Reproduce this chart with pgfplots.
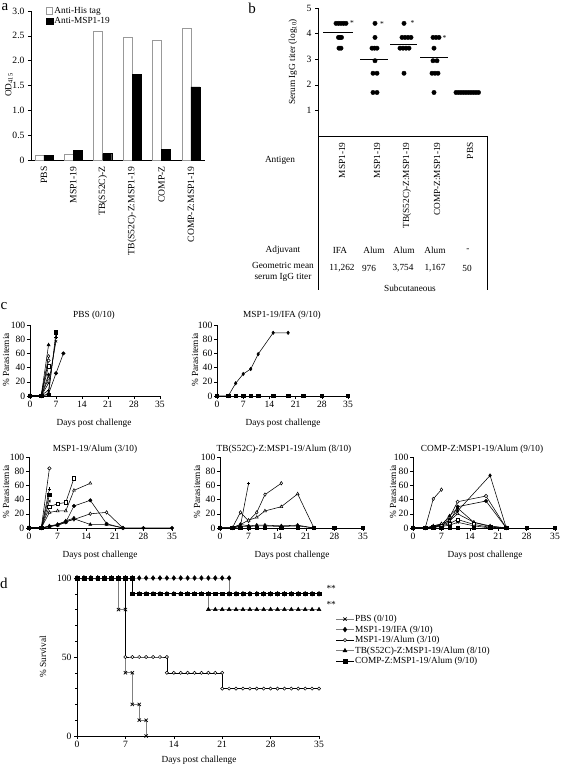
\documentclass[border=0pt]{standalone}
\usepackage{fontspec}
\setmainfont{Liberation Serif}
\usepackage{pgfplots}
\pgfplotsset{compat=1.18}
\newcommand\fs{\fontsize{9.3}{11}\selectfont}
\newcommand\ts{\fontsize{9.6}{11}\selectfont}
\begin{document}
\begin{tikzpicture}[font=\fs]
\useasboundingbox (0,0) rectangle (560pt,766pt);
\pgfplotsset{
  base/.style={scale only axis, axis lines=left, axis line style={-, black, line width=0.6pt},
    tick align=outside, major tick length=3pt, minor tick length=2pt,
    tick style={black, line width=0.5pt}, /pgf/number format/assume math mode=true,
    tick label style={font=\ts}, anchor=south west, clip=false},
  cpan/.style={base, xmin=0, xmax=35, ymin=0, ymax=100, height=71pt,
    xtick={0,7,14,21,28,35}, ytick={0,20,40,60,80,100},
    yticklabel style={inner sep=1.5pt}, xticklabel style={yshift=1pt},
    every axis plot/.append style={black, line width=0.55pt, mark size=1.7pt}},
  mD/.style={mark=diamond*, mark options={solid, fill=black}},
  mS/.style={mark=square*, mark options={solid, fill=black}},
  mT/.style={mark=triangle*, mark options={solid, fill=black}},
  mC/.style={mark=*, mark options={solid, fill=black}},
  oD/.style={mark=diamond*, mark options={solid, fill=white}},
  oS/.style={mark=square*, mark options={solid, fill=white}},
  oT/.style={mark=triangle*, mark options={solid, fill=white}},
  oC/.style={mark=*, mark options={solid, fill=white}},
  mX/.style={mark=x},
  mP/.style={mark=+}
}
% ---------- panel a ----------
\node[font=\fontsize{15}{15}\selectfont] at (5pt,759pt) {a};
\begin{axis}[base, at={(31pt,606pt)}, width=174pt, height=149pt,
  ybar=0pt, bar width=9pt, xmin=-0.44, xmax=5.48, ymin=0, ymax=3,
  xtick={0,1,2,3,4,5},
  xticklabels={PBS, MSP1-19, TB(S52C)-Z, TB(S52C)-Z:MSP1-19, COMP-Z, COMP-Z:MSP1-19},
  xtick style={draw=none}, xticklabel style={rotate=90, anchor=east},
  ytick={0,0.5,1,1.5,2,2.5,3}, yticklabels={0,0.5,1.0,1.5,2.0,2.5,3.0},
  legend style={at={(0.085,1.035)}, anchor=north west, draw=none, fill=none, font=\fs,
    inner sep=0pt, row sep=0pt, nodes={inner sep=1.4pt}},
  legend cell align=left,
  legend image code/.code={\draw[#1] (0pt,-3pt) rectangle (6.5pt,3.5pt);}]
\addplot[fill=white, draw=gray!80, line width=0.6pt] coordinates {(0,0.10)(1,0.12)(2,2.60)(3,2.48)(4,2.41)(5,2.66)};
\addplot[fill=black, draw=black] coordinates {(0,0.10)(1,0.19)(2,0.13)(3,1.73)(4,0.22)(5,1.47)};
\legend{Anti-His tag, Anti-MSP1-19}
\end{axis}
\node[rotate=90] at (9pt,681pt) {OD$_{\mathrm{415}}$};
% ---------- panel b ----------
\node[font=\fontsize{15}{15}\selectfont] at (252pt,758pt) {b};
\begin{axis}[base, at={(318pt,630pt)}, width=169pt, height=128pt,
  xmin=318, xmax=487, ymin=0, ymax=5, ytick={1,2,3,4,5},
  xtick={340,375,405,435,468},
  xticklabels={MSP1-19, MSP1-19, TB(S52C)-Z:MSP1-19, COMP-Z:MSP1-19, PBS},
  xtick style={draw=none}, xticklabel style={rotate=90, anchor=east, font=\fs, yshift=-2pt}]
\addplot[only marks, mark=*, mark size=2.2pt, mark options={black}] coordinates {
 (336,4.40)(338.5,4.40)(341,4.40)(343.5,4.40)(346,4.40)(338.5,3.85)(340,3.85)(341.5,3.85)(339,3.43)(341,3.43)
 (375,4.40)(375,3.85)(372,3.43)(374.5,3.43)(377,3.43)(375,2.94)(373,2.45)(377,2.45)(373,1.70)(377,1.70)
 (404,4.40)(402,3.85)(405,3.85)(408,3.85)(411,3.85)(400,3.43)(403,3.43)(406,3.43)(409,3.43)(404,2.45)
 (433,3.85)(436,3.85)(439,3.85)(434,3.43)(433,2.94)(437,2.94)(432,2.45)(435,2.45)(438,2.45)(434,1.70)
 (456,1.70)(458.5,1.70)(461,1.70)(463.5,1.70)(466,1.70)(468.5,1.70)(471,1.70)(473.5,1.70)(476,1.70)(478.5,1.70)};
\addplot[black, line width=0.6pt] coordinates {(323,4.05)(353,4.05)};
\addplot[black, line width=0.6pt] coordinates {(360,2.99)(388,2.99)};
\addplot[black, line width=0.6pt] coordinates {(390,3.57)(417,3.57)};
\addplot[black, line width=0.6pt] coordinates {(420,3.07)(448,3.07)};
\node[font=\fontsize{7.5}{7.5}\selectfont] at (axis cs:352,4.42) {*};
\node[font=\fontsize{7.5}{7.5}\selectfont] at (axis cs:382,4.36) {*};
\node[font=\fontsize{7.5}{7.5}\selectfont] at (axis cs:412.5,4.40) {*};
\node[font=\fontsize{7.5}{7.5}\selectfont] at (axis cs:444.5,3.84) {*};
\end{axis}
\draw[line width=0.6pt] (318pt,630pt) -- (318pt,476pt);
\draw[line width=0.6pt] (487pt,630pt) -- (487pt,476pt);
\node[rotate=90] at (293pt,704pt) {Serum IgG titer (log$_{\mathrm{10}}$)};
\node at (280pt,606pt) {Antigen};
\node at (283pt,516pt) {Adjuvant};
\node[align=center, font=\fontsize{9.3}{11.5}\selectfont] at (283pt,494pt) {Geometric mean\\serum IgG titer};
\node at (340pt,516pt) {IFA};
\node at (374pt,516pt) {Alum};
\node at (404pt,516pt) {Alum};
\node at (435pt,516pt) {Alum};
\node at (468pt,516pt) {-};
\node at (342pt,498pt) {11,262};
\node at (369pt,498pt) {976};
\node at (403pt,498pt) {3,754};
\node at (435pt,498pt) {1,167};
\node at (467pt,498pt) {50};
\node at (410pt,478pt) {Subcutaneous};
% ---------- panel c ----------
\node[font=\fontsize{15}{15}\selectfont] at (4pt,460pt) {c};
% PBS
\begin{axis}[cpan, at={(30pt,370pt)}, width=130pt]
\addplot[mD] coordinates {(0,0)(3,0)(5,30)};
\addplot[oD] coordinates {(0,0)(3,0)(5,56)};
\addplot[mT] coordinates {(0,0)(3,0)(5,72)};
\addplot[oC] coordinates {(0,0)(3,0)(5,50)};
\addplot[oS] coordinates {(0,0)(3,0)(5,42)};
\addplot[oT] coordinates {(0,0)(3,0)(5,25)};
\addplot[mX] coordinates {(0,0)(3,0)(5,18)(7,77)};
\addplot[mP] coordinates {(0,0)(3,1)(5,8)(7,83)};
\addplot[mC] coordinates {(0,0)(3,0)(5,3)(7,32)(9,60)};
\addplot[mS] coordinates {(0,0)(3,0)(5,2)(7,90)};
\end{axis}
\node at (94pt,451pt) {PBS (0/10)};
\node[rotate=90] at (6pt,406pt) {\% Parasitemia};
\node at (94pt,343pt) {Days post challenge};
% IFA
\begin{axis}[cpan, at={(217pt,370pt)}, width=131pt]
\addplot[mD] coordinates {(0,0)(3,0)(5,18)(7,31)(9,38)(11,59)(15,89)(19,89)};
\addplot[mS] coordinates {(0,0)(3,0)(5,0)(7,0)(9,0)(11,0)(15,0)(19,0)(23,0)(28,0)(35,0)};
\end{axis}
\node at (282pt,451pt) {MSP1-19/IFA (9/10)};
\node[rotate=90] at (195pt,406pt) {\% Parasitemia};
\node at (283pt,343pt) {Days post challenge};
% Alum
\begin{axis}[cpan, at={(29pt,238pt)}, width=143pt]
\addplot[oC] coordinates {(0,0)(3,0)(5,84)};
\addplot[mP] coordinates {(0,0)(3,0)(5,55)};
\addplot[mS] coordinates {(0,0)(3,0)(5,47)};
\addplot[mX] coordinates {(0,0)(3,0)(5,38)};
\addplot[oS] coordinates {(0,0)(3,0)(5,30)(7,34)(9,36)(11,70)};
\addplot[oT] coordinates {(0,0)(3,0)(5,22)(7,24)(9,24)(11,53)(15,63)};
\addplot[mC] coordinates {(0,0)(3,0)(5,2)(7,4)(9,8)(11,31)(15,39)(19,6)(23,0)(28,0)(35,0)};
\addplot[oD] coordinates {(0,0)(3,0)(5,2)(7,5)(9,9)(11,12)(15,20)(19,22)(23,0)};
\addplot[mT] coordinates {(0,0)(3,0)(5,2)(7,4)(9,8)(11,13)(15,5)(19,5)(23,0)};
\addplot[mD] coordinates {(0,0)(3,0)(5,3)(7,5)(9,10)(11,14)};
\end{axis}
\node at (95pt,317pt) {MSP1-19/Alum (3/10)};
\node[rotate=90] at (6pt,274pt) {\% Parasitemia};
\node at (100pt,211pt) {Days post challenge};
% TB
\begin{axis}[cpan, at={(220pt,238pt)}, width=143pt]
\addplot[mP] coordinates {(0,0)(3,0)(5,3)(7,63)};
\addplot[oD] coordinates {(0,0)(3,0)(5,22)(7,10)(9,22)(11,47)(15,63)};
\addplot[oT] coordinates {(0,0)(3,0)(5,5)(7,11)(9,15)(11,24)(15,30)(19,48)(23,0)};
\addplot[mD] coordinates {(0,0)(3,0)(5,5)(7,3)(9,4)(11,4)(15,3)(19,4)(23,0)};
\addplot[mT] coordinates {(0,0)(3,0)(5,2)(7,2)(9,3)(11,3)(15,2)(19,3)(23,0)};
\addplot[mS] coordinates {(0,0)(3,0)(5,0)(7,0)(9,0)(11,0)(15,0)(19,0)(23,0)(28,0)(35,0)};
\end{axis}
\node at (284pt,317pt) {TB(S52C)-Z:MSP1-19/Alum (8/10)};
\node[rotate=90] at (197pt,274pt) {\% Parasitemia};
\node at (292pt,211pt) {Days post challenge};
% COMP
\begin{axis}[cpan, at={(413pt,238pt)}, width=142pt]
\addplot[oD] coordinates {(0,0)(3,0)(5,41)(7,54)};
\addplot[oC] coordinates {(0,0)(3,0)(5,2)(7,5)(9,15)(11,37)(18,45)(23,0)};
\addplot[mC] coordinates {(0,0)(3,0)(5,2)(7,4)(9,8)(11,30)(18,38)(23,0)};
\addplot[mD] coordinates {(0,0)(3,0)(5,1)(7,3)(9,12)(11,24)(19,74)(23,0)};
\addplot[mT] coordinates {(0,0)(3,0)(5,2)(7,4)(9,17)(11,28)(15,8)(19,3)(23,0)};
\addplot[oT] coordinates {(0,0)(3,0)(5,3)(7,6)(9,10)(11,20)(15,8)(19,2)(23,0)};
\addplot[oS] coordinates {(0,0)(3,0)(5,2)(7,3)(9,6)(11,12)(15,5)(19,1)(23,0)};
\addplot[mX] coordinates {(0,0)(3,0)(5,1)(7,2)(9,4)(11,8)(15,3)(19,0)(23,0)};
\addplot[mS] coordinates {(0,0)(3,0)(5,0)(7,0)(9,0)(11,0)(15,0)(19,0)(23,0)(28,0)(35,0)};
\end{axis}
\node at (482pt,317pt) {COMP-Z:MSP1-19/Alum (9/10)};
\node[rotate=90] at (393pt,274pt) {\% Parasitemia};
\node at (485pt,211pt) {Days post challenge};
% ---------- panel d ----------
\node[font=\fontsize{15}{15}\selectfont] at (4pt,183pt) {d};
\begin{axis}[base, at={(77pt,30pt)}, width=242pt, height=158pt,
  xmin=0, xmax=35, ymin=0, ymax=100, xtick={0,7,14,21,28,35}, ytick={0,50,100},
  minor y tick num=4, yticklabel style={xshift=1pt}, xticklabel style={yshift=1pt},
  legend style={at={(1.07,0.775)}, anchor=north west, draw=none, fill=none, font=\fs,
    inner sep=0pt, row sep=0pt, nodes={inner sep=1.3pt}},
  legend cell align=left]
\addplot[gray, line width=0.6pt, mark=x, mark size=2.3pt, mark options={black, line width=0.7pt}] coordinates {
 (0,100)(1,100)(2,100)(3,100)(4,100)(5,100)(6,100)(6,80)(7,80)(7,40)(8,40)(8,20)(9,20)(9,10)(10,10)(10,0)};
\addplot[gray, line width=0.6pt, mark=diamond*, mark size=2.3pt, mark options={black, fill=black}] coordinates {
 (0,100)(1,100)(2,100)(3,100)(4,100)(5,100)(6,100)(7,100)(8,100)(9,100)(10,100)(11,100)(12,100)(13,100)(14,100)(15,100)(16,100)(17,100)(18,100)(19,100)(20,100)(21,100)(22,100)(22,90)(23,90)(24,90)(25,90)(26,90)(27,90)(28,90)(29,90)(30,90)(31,90)(32,90)(33,90)(34,90)(35,90)};
\addplot[black, line width=0.5pt, mark=*, mark size=1.6pt, mark options={black, fill=white}] coordinates {
 (0,100)(1,100)(2,100)(3,100)(4,100)(5,100)(6,100)(7,100)(7,50)(8,50)(9,50)(10,50)(11,50)(12,50)(13,50)(13,40)(14,40)(15,40)(16,40)(17,40)(18,40)(19,40)(20,40)(21,40)(21,30)(22,30)(23,30)(24,30)(25,30)(26,30)(27,30)(28,30)(29,30)(30,30)(31,30)(32,30)(33,30)(34,30)(35,30)};
\addplot[gray, line width=0.6pt, mark=triangle*, mark size=2.2pt, mark options={black, fill=black}] coordinates {
 (0,100)(1,100)(2,100)(3,100)(4,100)(5,100)(6,100)(7,100)(8,100)(8,90)(9,90)(10,90)(11,90)(12,90)(13,90)(14,90)(15,90)(16,90)(17,90)(18,90)(19,90)(19,80)(20,80)(21,80)(22,80)(23,80)(24,80)(25,80)(26,80)(27,80)(28,80)(29,80)(30,80)(31,80)(32,80)(33,80)(34,80)(35,80)};
\addplot[black, line width=0.6pt, mark=square*, mark size=1.9pt, mark options={black, fill=black}] coordinates {
 (0,100)(1,100)(2,100)(3,100)(4,100)(5,100)(6,100)(7,100)(8,100)(8,90)(9,90)(10,90)(11,90)(12,90)(13,90)(14,90)(15,90)(16,90)(17,90)(18,90)(19,90)(20,90)(21,90)(22,90)(23,90)(24,90)(25,90)(26,90)(27,90)(28,90)(29,90)(30,90)(31,90)(32,90)(33,90)(34,90)(35,90)};
\legend{PBS (0/10), MSP1-19/IFA (9/10), MSP1-19/Alum (3/10), TB(S52C)-Z:MSP1-19/Alum (8/10), COMP-Z:MSP1-19/Alum (9/10)}
\end{axis}
\node[anchor=west] at (323pt,178pt) {**};
\node[anchor=west] at (323pt,162pt) {**};
\node[rotate=90] at (43pt,109pt) {\% Survival};
\node at (199pt,6pt) {Days post challenge};
\end{tikzpicture}
\end{document}
